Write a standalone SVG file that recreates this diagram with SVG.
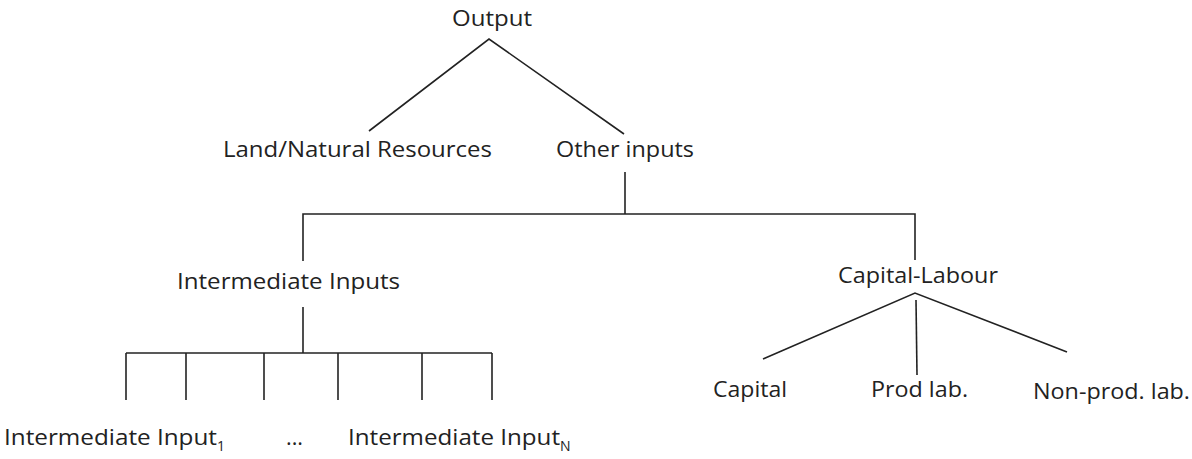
<svg xmlns="http://www.w3.org/2000/svg" width="1192" height="459" viewBox="0 0 1192 459">
<style>
text{font-family:"Open Sans","Noto Sans","Liberation Sans",sans-serif;font-size:22px;fill:#222}
.sub{font-size:14px}
#connectors line,#connectors polyline{stroke:#222;stroke-width:1.6;fill:none}
</style>
<rect width="1192" height="459" fill="#fff"/>
<g id="connectors">
<polyline points="369,131 489,39 624,134"/>
<line x1="625" y1="172" x2="625" y2="214"/>
<polyline points="303,261 303,214 915,214 915,260"/>
<line x1="303" y1="307" x2="303" y2="353"/>
<line x1="126" y1="353" x2="492" y2="353"/>
<line x1="126" y1="353" x2="126" y2="400"/>
<line x1="186" y1="353" x2="186" y2="400"/>
<line x1="264" y1="353" x2="264" y2="400"/>
<line x1="338" y1="353" x2="338" y2="400"/>
<line x1="422" y1="353" x2="422" y2="400"/>
<line x1="492" y1="353" x2="492" y2="400"/>
<polyline points="763,359 915,293 1067,352"/>
<line x1="916" y1="300" x2="917" y2="375"/>
</g>
<g id="output"><text x="452" y="26" textLength="80" lengthAdjust="spacingAndGlyphs">Output</text></g>
<g id="land"><text x="223" y="157" textLength="269" lengthAdjust="spacingAndGlyphs">Land/Natural Resources</text></g>
<g id="other"><text x="556" y="157" textLength="138" lengthAdjust="spacingAndGlyphs">Other inputs</text></g>
<g id="intermediate"><text x="177" y="289" textLength="223" lengthAdjust="spacingAndGlyphs">Intermediate Inputs</text></g>
<g id="caplab"><text x="838" y="283" textLength="160" lengthAdjust="spacingAndGlyphs">Capital-Labour</text></g>
<g id="capital"><text x="713" y="397" textLength="74" lengthAdjust="spacingAndGlyphs">Capital</text></g>
<g id="prodlab"><text x="871" y="397" textLength="97" lengthAdjust="spacingAndGlyphs">Prod lab.</text></g>
<g id="nonprodlab"><text x="1033" y="399" textLength="157" lengthAdjust="spacingAndGlyphs">Non-prod. lab.</text></g>
<g id="input1"><text x="4" y="445"><tspan textLength="213" lengthAdjust="spacingAndGlyphs">Intermediate Input</tspan><tspan class="sub" dy="6">1</tspan></text></g>
<g id="dots"><text x="286" y="445" textLength="17" lengthAdjust="spacingAndGlyphs">...</text></g>
<g id="inputN"><text x="348" y="445"><tspan textLength="212" lengthAdjust="spacingAndGlyphs">Intermediate Input</tspan><tspan class="sub" dy="6">N</tspan></text></g>
</svg>
